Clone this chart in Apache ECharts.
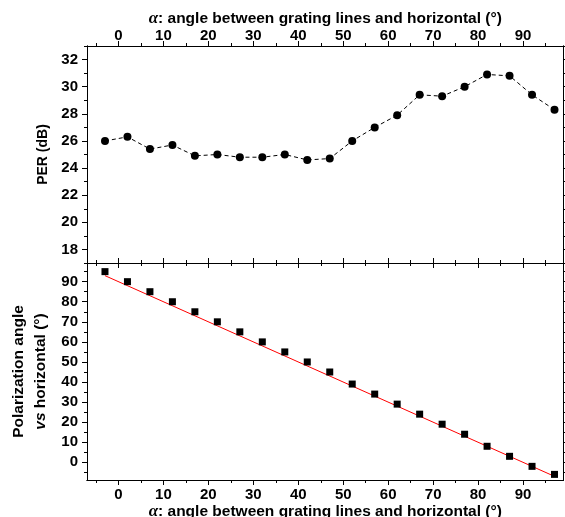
<!DOCTYPE html>
<html>
<head>
<meta charset="utf-8">
<title>PER and polarization angle vs grating angle</title>
<script src="https://cdn.jsdelivr.net/npm/echarts@6/dist/echarts.min.js"></script>
<style>
  html, body { margin: 0; padding: 0; background: #fff; }
  #chart { width: 565px; height: 517px; }
</style>
</head>
<body>
<div id="chart"></div>
<script>
// grating angle alpha (deg) for each measurement
const angleAlpha = [-3, 2, 7, 12, 17, 22, 27, 32, 37, 42, 47, 52, 57, 62, 67, 72, 77, 82, 87, 92, 97];
// polarization extinction ratio (dB)
const perDb = [26.0, 26.3, 25.4, 25.7, 24.9, 25.0, 24.8, 24.8, 25.0, 24.6, 24.7, 26.0, 27.0, 27.9, 29.4, 29.3, 30.0, 30.9, 30.8, 29.4, 28.3];
// measured polarization angle vs horizontal (deg)
const polAngle = [95, 90, 85, 80, 75, 70, 65, 60, 55, 50, 45, 39, 34, 29, 24, 19, 14, 8, 3, -2, -6];
// red linear fit, end points
const fitX = [-3, 97];
const fitY = [93, -7];

// tick labels / tick positions
const xTicks = [0, 10, 20, 30, 40, 50, 60, 70, 80, 90];
const xMinorTicks = [-5, 5, 15, 25, 35, 45, 55, 65, 75, 85, 95];
const perTicks = [18, 20, 22, 24, 26, 28, 30, 32];
const perMinorTicks = [17, 19, 21, 23, 25, 27, 29, 31, 33];
const polTicks = [0, 10, 20, 30, 40, 50, 60, 70, 80, 90];
const polMinorTicks = [-5, 5, 15, 25, 35, 45, 55, 65, 75, 85, 95];

const FONT = 'Arial, "Liberation Sans", sans-serif';
const X_MIN = -7, X_MAX = 99;

// one axis = one set of ticks; labelled axes get axisLabel + name via extra
function axis(grid, pos, min, max, ticks, len, extra) {
  return Object.assign({
    type: 'value',
    gridIndex: grid,
    position: pos,
    min: min,
    max: max,
    axisLine: { show: true, onZero: false, lineStyle: { color: '#000', width: 1 } },
    axisTick: { show: true, inside: false, length: len, customValues: ticks, lineStyle: { color: '#000', width: 1 } },
    axisLabel: { show: false },
    splitLine: { show: false }
  }, extra || {});
}

function labels(values, margin) {
  return {
    show: true,
    customValues: values,
    margin: margin,
    color: '#000',
    fontSize: 15,
    fontWeight: 'bold',
    fontFamily: FONT
  };
}

const alphaName = {
  name: '{a|α}{t|: angle between grating lines and horizontal (°)}',
  nameLocation: 'middle',
  nameTextStyle: {
    rich: {
      a: { fontFamily: '"Liberation Serif", serif', fontStyle: 'italic', fontWeight: 'bold', fontSize: 17, color: '#000' },
      t: { fontFamily: FONT, fontWeight: 'bold', fontSize: 15.5, color: '#000' }
    }
  }
};

const xAxes = [
  // top panel
  axis(0, 'top', X_MIN, X_MAX, xTicks, 5, Object.assign({ axisLabel: labels(xTicks, 3), nameGap: 18 }, alphaName)),
  axis(0, 'top', X_MIN, X_MAX, xMinorTicks, 3),
  axis(0, 'bottom', X_MIN, X_MAX, xTicks, 5),
  axis(0, 'bottom', X_MIN, X_MAX, xMinorTicks, 3),
  // bottom panel
  axis(1, 'top', X_MIN, X_MAX, xTicks, 5),
  axis(1, 'top', X_MIN, X_MAX, xMinorTicks, 3),
  axis(1, 'bottom', X_MIN, X_MAX, xTicks, 5, Object.assign({ axisLabel: labels(xTicks, 7), nameGap: 22 }, alphaName)),
  axis(1, 'bottom', X_MIN, X_MAX, xMinorTicks, 3)
];

const yAxes = [
  // top panel
  axis(0, 'left', 17, 33, perTicks, 5, {
    axisLabel: labels(perTicks, 9),
    name: 'PER (dB)',
    nameLocation: 'middle',
    nameGap: 34,
    nameTextStyle: { fontFamily: FONT, fontWeight: 'bold', fontSize: 14, color: '#000' }
  }),
  axis(0, 'left', 17, 33, perMinorTicks, 3),
  axis(0, 'right', 17, 33, perTicks, 5),
  axis(0, 'right', 17, 33, perMinorTicks, 3),
  // bottom panel
  axis(1, 'left', -8.8, 99.3, polTicks, 5, {
    axisLabel: labels(polTicks, 9),
    name: '{t|Polarization angle}\n{i|vs}{t| horizontal (°)}',
    nameLocation: 'middle',
    nameGap: 35,
    nameTextStyle: {
      rich: {
        t: { fontFamily: FONT, fontWeight: 'bold', fontSize: 15.5, lineHeight: 22, color: '#000' },
        i: { fontFamily: FONT, fontWeight: 'bold', fontStyle: 'italic', fontSize: 15.5, lineHeight: 22, color: '#000' }
      }
    }
  }),
  axis(1, 'left', -8.8, 99.3, polMinorTicks, 3),
  axis(1, 'right', -8.8, 99.3, polTicks, 5),
  axis(1, 'right', -8.8, 99.3, polMinorTicks, 3)
];

const chart = echarts.init(document.getElementById('chart'), null, { renderer: 'canvas' });

chart.setOption({
  backgroundColor: '#fff',
  animation: false,
  grid: [
    { left: 87, right: 1.5, top: 46, height: 217, outerBoundsMode: 'none' },
    { left: 87, right: 1.5, top: 263, height: 217, outerBoundsMode: 'none' }
  ],
  xAxis: xAxes,
  yAxis: yAxes,
  series: [
    {
      name: 'PER',
      type: 'line',
      xAxisIndex: 0,
      yAxisIndex: 0,
      data: angleAlpha.map((a, i) => [a, perDb[i]]),
      symbol: 'circle',
      symbolSize: 8,
      itemStyle: { color: '#000' },
      lineStyle: { color: '#000', width: 1, type: [4, 3] },
      z: 3
    },
    {
      name: 'fit',
      type: 'line',
      xAxisIndex: 6,
      yAxisIndex: 4,
      data: fitX.map((a, i) => [a, fitY[i]]),
      showSymbol: false,
      lineStyle: { color: '#ff0000', width: 1 },
      z: 2
    },
    {
      name: 'polarization',
      type: 'scatter',
      xAxisIndex: 6,
      yAxisIndex: 4,
      data: angleAlpha.map((a, i) => [a, polAngle[i]]),
      symbol: 'rect',
      symbolSize: 7,
      itemStyle: { color: '#000', opacity: 1 },
      z: 3
    }
  ]
});
</script>
</body>
</html>
